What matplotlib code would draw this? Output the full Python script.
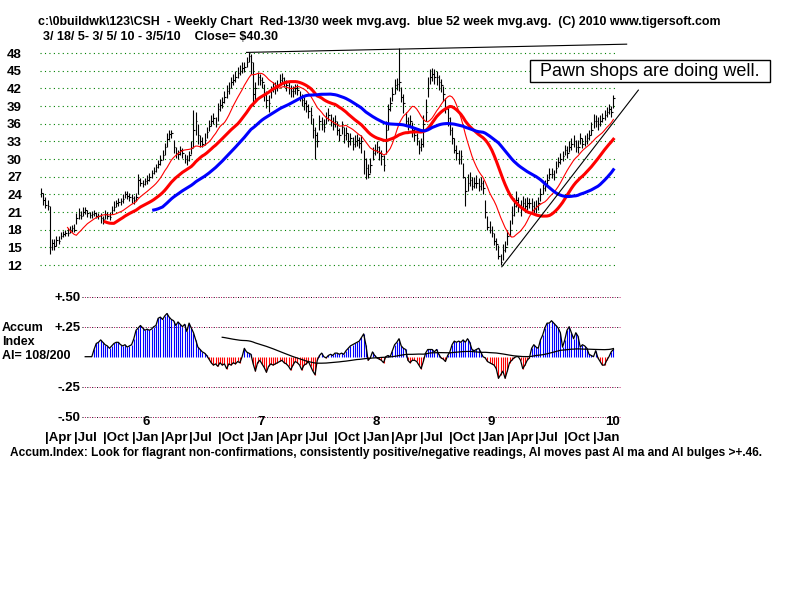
import numpy as np
import pandas as pd
import matplotlib
matplotlib.use('Agg')
import matplotlib.pyplot as plt
import matplotlib.patches as patches
from matplotlib.transforms import blended_transform_factory

plt.rcParams['font.family'] = ['Liberation Sans', 'DejaVu Sans']

# weekly bars for CSH, first week ends 2005-03-18 (260 weeks)
start = pd.Timestamp('2005-03-18')
close = [24.3, 23.0, 22.2, 22.0, 15.0, 15.8, 15.3, 16.2, 16.0, 17.0, 17.2, 17.4, 17.5,
         18.0, 18.2, 18.0, 20.0, 20.5, 20.3, 21.0, 21.3, 20.8, 20.5, 20.6, 20.9, 20.4,
         20.3, 20.0, 19.8, 20.6, 20.3, 20.1, 21.4, 21.8, 22.5, 22.7, 22.8, 23.2, 24.0,
         23.8, 23.5, 23.3, 23.0, 23.6, 26.5, 26.0, 25.8, 26.3, 26.5, 27.0, 27.6, 28.0,
         28.6, 29.2, 29.8, 30.6, 32.0, 33.4, 34.2, 34.4, 32.0, 31.0, 30.8, 31.5, 31.0,
         30.0, 29.8, 30.6, 31.8, 35.0, 36.5, 34.0, 33.0, 32.6, 33.2, 34.6, 35.6, 36.5,
         37.0, 36.0, 38.5, 39.2, 39.6, 40.5, 41.5, 42.0, 43.0, 43.5, 44.0, 44.6, 45.0,
         45.5, 45.6, 46.5, 47.5, 46.5, 41.0, 42.0, 44.0, 43.5, 43.0, 41.0, 40.0, 39.5,
         41.7, 42.3, 42.0, 42.5, 43.5, 43.8, 43.2, 42.5, 42.0, 41.5, 41.5, 42.0, 41.8,
         40.5, 40.0, 39.5, 39.0, 38.2, 37.5, 35.0, 34.0, 33.0, 36.5, 36.0, 35.5, 37.0,
         37.5, 36.5, 36.0, 36.5, 35.0, 34.0, 35.5, 34.0, 34.5, 33.0, 33.5, 32.5, 33.0,
         33.2, 32.8, 33.0, 30.0, 28.5, 27.5, 29.0, 31.0, 31.5, 32.0, 31.0, 30.5, 29.0,
         35.0, 38.5, 39.5, 41.0, 42.5, 42.8, 43.0, 40.5, 39.5, 36.5, 36.0, 36.5, 35.0,
         34.0, 33.5, 32.0, 32.5, 36.0, 38.0, 42.0, 44.0, 44.5, 44.0, 44.0, 43.0, 42.5,
         41.0, 38.5, 37.0, 35.0, 33.5, 31.5, 31.0, 30.0, 30.5, 27.0, 24.5, 26.0, 26.5,
         25.5, 26.0, 26.0, 25.5, 26.0, 25.0, 21.0, 18.5, 18.0, 17.5, 16.0, 15.5, 13.5,
         12.5, 14.5, 15.0, 17.0, 18.0, 20.5, 22.0, 23.0, 22.0, 21.5, 22.5, 22.0, 22.5,
         22.5, 22.0, 21.5, 22.0, 22.5, 24.0, 25.0, 25.5, 26.5, 27.5, 27.5, 27.0, 28.5,
         29.5, 30.0, 30.5, 31.5, 31.0, 32.0, 32.5, 33.0, 32.0, 32.0, 33.5, 32.5, 33.0,
         33.5, 34.0, 35.0, 36.5, 36.5, 36.0, 36.5, 37.0, 37.5, 38.0, 38.5, 38.0, 40.3]
high = [25.0, 24.3, 23.5, 23.0, 22.0, 16.5, 16.5, 17.0, 17.0, 17.6, 17.8, 18.0, 18.3,
        18.6, 18.8, 19.0, 20.8, 21.6, 21.2, 21.8, 21.8, 21.4, 21.0, 21.2, 21.4, 21.0,
        20.8, 20.8, 20.4, 21.4, 21.0, 21.0, 22.0, 22.8, 23.0, 23.4, 23.4, 24.0, 24.6,
        24.5, 24.2, 24.0, 23.8, 24.2, 27.5, 26.8, 26.5, 26.8, 27.2, 27.6, 28.2, 28.6,
        29.2, 29.8, 30.6, 31.5, 32.8, 34.4, 34.9, 35.0, 33.2, 32.0, 31.6, 32.2, 31.8,
        30.8, 30.6, 31.4, 33.0, 38.4, 38.0, 36.0, 34.0, 33.8, 34.5, 35.5, 36.6, 37.4,
        37.8, 37.2, 39.5, 40.2, 40.5, 41.5, 42.5, 43.0, 44.0, 44.5, 45.0, 45.6, 46.0,
        46.4, 46.4, 47.4, 48.2, 47.8, 46.5, 43.0, 44.8, 44.4, 44.0, 42.8, 41.6, 40.8,
        42.4, 43.0, 43.0, 43.4, 44.4, 44.6, 44.0, 43.4, 43.0, 42.6, 42.4, 42.8, 42.8,
        41.6, 41.0, 40.6, 40.0, 39.4, 38.8, 37.0, 35.4, 34.6, 37.4, 37.2, 36.8, 38.0,
        38.6, 37.6, 37.2, 37.4, 36.4, 35.2, 36.4, 35.4, 35.4, 34.4, 34.4, 33.8, 34.0,
        34.2, 33.8, 34.0, 31.5, 30.2, 29.2, 30.2, 32.0, 32.6, 33.0, 32.2, 31.6, 30.6,
        36.4, 39.4, 40.6, 42.2, 43.6, 43.8, 48.8, 42.2, 41.0, 38.0, 37.2, 37.4, 36.2,
        35.2, 34.4, 33.2, 33.6, 37.5, 40.2, 44.0, 45.2, 45.4, 45.2, 45.0, 44.2, 43.6,
        42.4, 40.4, 38.6, 37.2, 35.4, 33.6, 32.4, 31.6, 31.6, 29.4, 27.0, 27.4, 27.8,
        27.0, 27.0, 27.2, 26.8, 27.0, 26.4, 23.0, 20.4, 19.4, 18.6, 17.4, 16.6, 15.4,
        13.8, 15.6, 16.0, 18.0, 19.6, 22.0, 23.4, 24.6, 23.6, 23.0, 23.8, 23.4, 23.6,
        23.4, 23.4, 22.8, 23.0, 23.6, 25.0, 25.8, 26.4, 27.4, 28.4, 28.4, 28.2, 29.6,
        30.4, 31.0, 31.4, 32.4, 32.2, 33.0, 33.6, 34.0, 33.2, 33.2, 34.4, 33.6, 34.0,
        34.4, 35.0, 36.2, 37.6, 37.4, 37.2, 37.4, 37.8, 38.4, 38.8, 39.4, 39.0, 40.8]
low = [23.5, 22.2, 21.6, 21.3, 13.8, 14.6, 14.5, 15.2, 15.5, 16.4, 16.8, 17.0, 17.0,
       17.4, 17.6, 17.6, 19.0, 19.8, 19.8, 20.4, 20.6, 20.2, 20.0, 20.0, 20.3, 19.9,
       19.8, 19.2, 19.0, 19.8, 19.8, 19.6, 20.6, 21.2, 21.8, 22.0, 22.2, 22.6, 23.4,
       23.2, 22.8, 22.6, 22.4, 22.8, 24.0, 25.4, 25.2, 25.6, 25.8, 26.3, 26.8, 27.4,
       27.8, 28.4, 29.0, 29.8, 30.6, 32.0, 33.2, 33.6, 31.0, 30.2, 30.0, 30.6, 30.2,
       29.4, 29.0, 29.6, 30.8, 32.0, 34.0, 32.5, 32.0, 32.0, 32.4, 33.6, 34.8, 35.6,
       36.0, 35.4, 36.5, 38.2, 38.6, 39.5, 40.4, 41.0, 42.0, 42.6, 43.0, 43.8, 44.2,
       44.6, 44.8, 45.6, 46.4, 44.5, 39.0, 40.0, 42.6, 42.5, 42.0, 39.8, 38.6, 38.0,
       40.4, 41.4, 41.0, 41.6, 42.6, 43.0, 42.2, 41.6, 41.0, 40.6, 40.6, 41.0, 40.8,
       39.8, 39.0, 38.4, 38.0, 37.0, 36.0, 33.5, 30.0, 32.0, 35.0, 35.0, 34.6, 36.0,
       36.4, 35.6, 35.0, 35.4, 34.0, 33.0, 34.2, 32.8, 33.2, 32.0, 32.4, 31.6, 32.0,
       32.2, 31.8, 31.0, 27.5, 26.6, 26.8, 27.6, 29.8, 30.6, 31.0, 29.8, 29.0, 28.0,
       30.8, 35.0, 38.2, 39.8, 41.0, 41.8, 41.6, 39.6, 37.8, 35.6, 35.0, 35.4, 33.8,
       33.0, 32.4, 30.8, 31.4, 32.0, 36.4, 40.6, 42.8, 43.2, 42.8, 42.6, 41.8, 41.4,
       39.8, 37.8, 35.6, 34.0, 32.6, 31.0, 29.8, 29.2, 29.2, 26.8, 22.0, 24.6, 25.4,
       24.8, 25.0, 25.0, 24.6, 24.8, 24.0, 20.0, 18.0, 17.4, 16.8, 15.4, 14.6, 13.0,
       12.0, 12.8, 14.2, 15.4, 17.0, 19.0, 20.4, 21.8, 21.0, 20.4, 21.4, 21.0, 21.4,
       21.6, 21.2, 20.6, 20.8, 21.4, 22.8, 24.0, 24.6, 25.6, 26.6, 26.8, 26.4, 27.6,
       28.6, 29.2, 29.6, 30.6, 30.2, 31.2, 31.6, 32.0, 31.2, 31.0, 32.6, 31.8, 32.2,
       32.6, 33.2, 34.0, 35.2, 35.4, 35.0, 35.6, 36.2, 36.6, 37.2, 37.6, 37.2, 38.6]

# accumulation index, starts at week 20
ai_start = 20
ai = [0, 0, 0, 0, 0.06, 0.11, 0.12, 0.14, 0.12, 0.10,
      0.09, 0.07, 0.09, 0.11, 0.12, 0.12, 0.10, 0.09, 0.10, 0.08,
      0.09, 0.10, 0.15, 0.22, 0.24, 0.26, 0.24, 0.22, 0.23, 0.22,
      0.23, 0.25, 0.26, 0.32, 0.33, 0.31, 0.34, 0.36, 0.33, 0.31,
      0.30, 0.26, 0.29, 0.27, 0.25, 0.27, 0.21, 0.28, 0.24, 0.20,
      0.14, 0.08, 0.06, 0.04, 0.03, 0.01, -0.02, -0.05, -0.07, -0.06,
      -0.08, -0.05, -0.07, -0.06, -0.10, -0.06, -0.07, -0.05, -0.06, -0.04,
      -0.05, 0.00, 0.07, 0.04, 0.03, 0.02, -0.06, -0.12, -0.05, -0.03,
      -0.06, -0.09, -0.13, -0.08, -0.06, -0.07, -0.06, -0.05, -0.04, -0.03,
      -0.05, -0.06, -0.08, -0.11, -0.07, -0.04, -0.05, -0.07, -0.11, -0.07,
      -0.06, -0.04, -0.08, -0.12, -0.15, -0.03, 0.01, 0.03, 0.00, -0.01,
      0.01, 0.02, 0.01, 0.03, 0.03, 0.02, 0.03, 0.02, 0.05, 0.07,
      0.09, 0.10, 0.11, 0.12, 0.13, 0.16, 0.19, 0.10, -0.03, -0.01,
      0.04, 0.01, -0.01, -0.02, -0.03, -0.05, 0.00, 0.01, 0.00, 0.05,
      0.10, 0.12, 0.15, 0.09, 0.07, 0.06, -0.03, -0.05, -0.03, -0.03,
      -0.04, -0.07, -0.10, -0.04, 0.03, 0.06, 0.06, 0.06, 0.04, 0.06,
      0.02, -0.01, -0.02, -0.04, 0.01, 0.04, 0.10, 0.13, 0.12, 0.13,
      0.12, 0.14, 0.12, 0.15, 0.12, 0.06, 0.05, 0.06, 0.07, 0.04,
      0.00, -0.01, -0.04, -0.05, -0.06, -0.07, -0.10, -0.18, -0.15, -0.12,
      -0.18, -0.12, -0.05, -0.03, -0.01, 0.00, 0.00, -0.03, -0.10, -0.07,
      -0.03, -0.01, 0.07, 0.10, 0.08, 0.07, 0.14, 0.18, 0.24, 0.28,
      0.28, 0.30, 0.28, 0.26, 0.24, 0.20, 0.08, 0.14, 0.22, 0.25,
      0.20, 0.15, 0.20, 0.17, 0.08, 0.10, 0.09, 0.07, 0.02, 0.01,
      0.00, 0.05, -0.01, -0.04, -0.07, -0.07, -0.03, 0.00, 0.04, 0.06]
ai_ma_first = 82   # the AI moving average is only drawn from this week on

price_ticks = list(range(12, 49, 3))
ai_ticks = [0.5, 0.25, -0.25, -0.5]
ai_tick_labels = ['+.50', '+.25', '-.25', '-.50']
year_labels = ['6', '7', '8', '9', '10']
year_weeks = [47.5, 99.5, 151.6, 203.6, 258.4]
quarters = pd.date_range('2005-04-01', '2010-01-01', freq='QS')

# hand drawn trend lines (week, price)
resist_x = [93, 265]
resist_y = [48.1, 49.5]
support_x = [208.5, 270.3]
support_y = [11.7, 41.7]

weeks = np.arange(len(close))
s = pd.Series(close)
ma13 = s.rolling(13).mean()
ma30 = s.rolling(30).mean()
ma52 = s.rolling(52).mean()

ai_w = np.arange(ai_start, ai_start + len(ai))
ai_arr = np.array(ai)
ai_ma = pd.Series(ai, index=ai_w).rolling(52).mean()
ai_ma = ai_ma[ai_ma.index >= ai_ma_first]

fig = plt.figure(figsize=(8, 6), dpi=100)
fig.patch.set_facecolor('white')

# pixel helpers: week -> x pixel is 41 + 2.21*w
xlim = ((40 - 41) / 2.21, (640 - 41) / 2.21)
grid_end = (615 - 41) / 2.21

# ---- price panel
ax = fig.add_axes([40 / 800, 1 - 272 / 600, 600 / 800, 232 / 600])
ax.set_xlim(*xlim)
ax.set_ylim(48 - (272 - 53) / 5.889, 48 + 13 / 5.889)
for sp in ax.spines.values():
    sp.set_visible(False)
ax.set_xticks([])
ax.set_yticks(price_ticks)
ax.set_yticklabels([str(t) for t in price_ticks], fontsize=9.5, fontweight='bold')
ax.tick_params(axis='y', length=0, pad=13)

ax.hlines(price_ticks, xlim[0], grid_end, colors='#008000', linestyles=(0, (1, 3)), lw=0.8)
ax.vlines(weeks, low, high, colors='black', lw=0.8)
ax.hlines(close, weeks, weeks + 0.7, colors='black', lw=0.8)

ax.plot(weeks, ma13, color='#ff0000', lw=0.8)
ax.plot(weeks, ma30, color='#ff0000', lw=2.2)
ax.plot(weeks, ma52, color='#0000ff', lw=2.2)
ax.plot(resist_x, resist_y, color='black', lw=0.8)
ax.plot(support_x, support_y, color='black', lw=0.8)

# ---- accumulation index panel
ax2 = fig.add_axes([40 / 800, 1 - 420 / 600, 600 / 800, 130 / 600])
ax2.set_xlim(*xlim)
ax2.set_ylim((356.7 - 420) / 120, (356.7 - 290) / 120)
for sp in ax2.spines.values():
    sp.set_visible(False)
ax2.set_xticks([])
ax2.set_yticks(ai_ticks)
ax2.set_yticklabels(ai_tick_labels, fontsize=9.5, fontweight='bold')
ax2.tick_params(axis='y', length=0, pad=-29)

g0 = (82 - 41) / 2.21
g1 = (620 - 41) / 2.21
ax2.hlines(ai_ticks, g0, g1, colors='black', linestyles=(0, (1, 4)), lw=0.7)
ax2.hlines(ai_ticks, g0, g1, colors='#c00060', linestyles=(2.5, (1, 4)), lw=0.7)

pos = ai_arr > 0
ax2.vlines(ai_w[pos], 0, ai_arr[pos], colors='#0000ff', lw=0.8)
ax2.vlines(ai_w[~pos], 0, ai_arr[~pos], colors='#ff0000', lw=0.8)
ax2.plot(ai_w, ai_arr, color='black', lw=0.9)
ax2.plot(ai_ma.index, ai_ma.values, color='black', lw=0.9)

# ---- texts
fig.text(38 / 800, 1 - 22 / 600,
         r"c:\0buildwk\123\CSH  - Weekly Chart  Red-13/30 week mvg.avg.  blue 52 week mvg.avg.  (C) 2010 www.tigersoft.com",
         fontsize=8.95, fontweight='bold', va='center', ha='left')
fig.text(43 / 800, 1 - 37 / 600, r"3/ 18/ 5- 3/ 5/ 10 - 3/5/10    Close= \$40.30",
         fontsize=9, fontweight='bold', va='center', ha='left')

for lab, ypx in zip(["Accum", "Index", "AI= 108/200"], [328, 342, 356]):
    fig.text(2 / 800, 1 - ypx / 600, lab, fontsize=9, fontweight='bold', va='center', ha='left')

tr = blended_transform_factory(ax2.transData, fig.transFigure)
for lab, w in zip(year_labels, year_weeks):
    ax2.text(w, 1 - 422 / 600, lab, transform=tr, fontsize=9.5, fontweight='bold',
             ha='center', va='center')
for q in quarters:
    w = (q - start).days / 7
    ax2.text(w, 1 - 438 / 600, '|' + q.strftime('%b'), transform=tr, fontsize=9.5,
             fontweight='bold', ha='left', va='center')

fig.text(10 / 800, 1 - 453 / 600,
         "Accum.Index: Look for flagrant non-confirmations, consistently positive/negative readings, AI moves past AI ma and AI bulges >+.46.",
         fontsize=8.6, fontweight='bold', va='center', ha='left')

# note box
box = patches.Rectangle((530 / 800, 1 - 82 / 600), 240 / 800, 22 / 600, transform=fig.transFigure,
                        facecolor='white', edgecolor='black', lw=1)
fig.patches.append(box)
fig.text(540 / 800, 1 - 71 / 600, "Pawn shops are doing well.", fontsize=13, va='center', ha='left')

fig.savefig('out.png', dpi=100)
